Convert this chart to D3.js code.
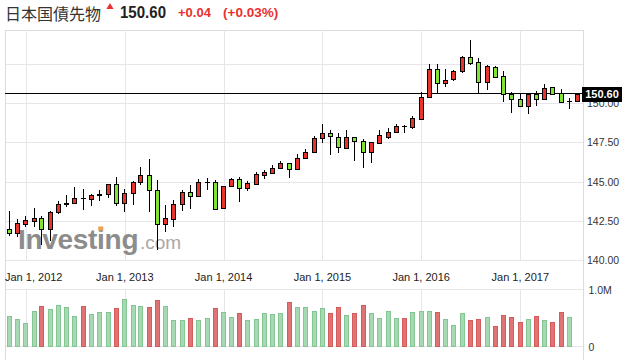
<!DOCTYPE html>
<html><head><meta charset="utf-8">
<script src="https://cdn.jsdelivr.net/npm/d3@7"></script>
<style>body{margin:0;background:#fff} svg{display:block;font-family:"Liberation Sans",Arial,sans-serif}</style>
</head><body><svg id="c" width="624" height="364"></svg>
<script>
// ---- data ----
const title = "日本国債先物";
const lastPriceText = "150.60";
const changeText = "+0.04";
const changePctText = "(+0.03%)";
const lastPrice = 150.60;
const firstMonth = "2011-11-01";
const lastMonth = "2017-08-01";
const open  = [142.00,141.70,142.32,142.51,142.66,141.96,143.08,143.58,143.62,143.94,143.91,144.16,144.19,144.83,143.62,144.25,144.99,145.42,144.45,142.28,142.60,143.55,144.32,144.06,144.99,144.99,143.30,144.70,145.15,144.57,144.83,145.44,145.57,145.85,146.17,145.78,146.49,146.87,147.76,148.08,147.86,147.14,147.83,147.57,146.91,147.48,147.86,148.14,148.55,148.50,148.97,150.38,152.16,151.27,151.52,152.03,152.93,152.61,151.37,152.29,151.73,150.57,150.25,149.84,150.57,150.25,151.01,150.63,150.12,150.14];
const high  = [143.12,142.61,142.81,143.32,142.81,143.12,143.76,144.15,144.66,144.53,144.21,144.46,144.85,145.29,144.51,145.04,145.93,146.44,145.08,143.51,143.83,144.46,144.78,145.17,145.21,145.08,144.75,145.21,145.29,145.06,145.63,145.72,146.06,146.31,146.21,146.78,147.08,147.91,148.67,148.29,148.08,148.29,147.86,147.70,147.55,148.29,148.40,148.65,148.61,149.18,150.73,152.48,152.48,152.16,152.12,153.01,154.03,152.86,152.44,152.37,152.05,150.70,150.59,150.63,150.78,151.21,151.05,150.89,150.33,150.67];
const low   = [141.55,141.49,142.09,142.12,140.96,141.23,142.91,143.36,143.57,143.19,143.46,143.78,143.94,143.46,143.08,143.53,144.78,143.08,140.64,141.77,142.09,143.14,143.25,144.06,144.45,143.17,143.27,144.66,143.70,144.42,144.83,145.15,145.53,145.80,145.25,145.74,146.44,146.81,147.44,146.70,146.84,147.10,146.33,145.85,146.17,147.44,147.70,148.12,148.12,148.37,148.97,150.35,150.59,151.05,151.42,151.91,152.46,150.67,150.84,151.67,150.10,149.39,149.78,149.29,149.84,150.25,150.52,150.06,149.65,150.14];
const close = [141.70,142.34,142.53,142.66,141.96,143.04,143.57,143.65,143.94,143.94,144.15,144.19,144.83,143.62,144.25,144.97,145.42,144.45,142.28,142.66,143.57,144.32,144.06,144.99,144.99,143.23,144.72,145.15,144.57,144.89,145.48,145.59,145.89,146.17,145.78,146.49,146.87,147.76,148.08,147.91,147.19,147.83,147.59,146.91,147.51,147.95,148.16,148.55,148.55,149.04,150.38,152.16,151.27,151.46,152.05,152.93,152.59,151.37,152.37,151.69,150.59,150.25,149.84,150.57,150.25,150.99,150.59,150.06,150.12,150.60];
// volume in millions, one per month from firstMonth (current month has none)
const volume = [0.546,0.494,0.424,0.634,0.721,0.668,0.738,0.703,0.546,0.721,0.581,0.616,0.616,0.686,0.843,0.738,0.721,0.703,0.826,0.721,0.476,0.476,0.511,0.476,0.511,0.686,0.616,0.529,0.599,0.476,0.494,0.599,0.581,0.599,0.791,0.703,0.703,0.634,0.686,0.599,0.703,0.564,0.599,0.738,0.599,0.511,0.634,0.511,0.511,0.616,0.634,0.634,0.616,0.494,0.389,0.599,0.476,0.494,0.529,0.372,0.564,0.529,0.442,0.494,0.546,0.476,0.442,0.616,0.529];
const volumeUp = [0,0,0,0,1,0,0,0,0,1,0,0,0,1,0,0,0,1,1,0,0,0,1,0,0,1,0,0,1,0,0,0,0,0,1,0,0,0,0,1,1,0,1,1,0,0,0,0,1,0,0,0,1,0,0,0,1,1,0,1,1,1,1,0,1,0,1,1,0];
const priceGrid = [140,142.5,145,147.5,150,152.5];
const priceLabels = [140,142.5,145,147.5,150];
const yearTicks = ["2012-01-01","2013-01-01","2014-01-01","2015-01-01","2016-01-01","2017-01-01"];
const yearLabels = ["Jan 1, 2012","Jan 1, 2013","Jan 1, 2014","Jan 1, 2015","Jan 1, 2016","Jan 1, 2017"];
const volTicks = [0,1];
const volTickLabels = ["0","1.0M"];

// ---- layout ----
const L = 5, R = 583, T = 30, B = 360;
const svg = d3.select("#c");
const months = d3.utcMonth.range(new Date(firstMonth), d3.utcDay.offset(new Date(lastMonth),1));
const candles = months.map((d,i)=>({d, o:open[i], h:high[i], l:low[i], c:close[i]}));
const vols = volume.map((v,i)=>({d:months[i], v, up:volumeUp[i]}));

const x = d3.scaleUtc().domain([new Date(yearTicks[0]), new Date(yearTicks[5])]).range([25.7, 520.3]);
const y = d3.scaleLinear().domain([140,152.5]).range([260,64]);
const yv = d3.scaleLinear().domain([0,1]).range([347.3,290]);
const px = v => Math.round(v)+0.5;
const grid = "#e6e6ea";

// title
svg.append("text").attr("x",5).attr("y",19.5).attr("font-family","'Noto Sans CJK JP',sans-serif")
  .attr("font-size",16).attr("fill","#333").text(title);
svg.append("path").attr("d",d3.symbol(d3.symbolTriangle,22)()).attr("transform","translate(110,7)").attr("fill","#e8312f");
svg.append("text").attr("x",120).attr("y",17.5).attr("font-size",17).attr("font-weight","bold").attr("fill","#222")
  .attr("textLength",46).attr("lengthAdjust","spacingAndGlyphs").text(lastPriceText);
svg.append("text").attr("x",178).attr("y",16.8).attr("font-size",13).attr("font-weight","bold").attr("fill","#e8312f").text(changeText);
svg.append("text").attr("x",223).attr("y",16.8).attr("font-size",13.5).attr("font-weight","bold").attr("fill","#e8312f").text(changePctText);

// grid
const g = svg.append("g").attr("shape-rendering","crispEdges");
g.selectAll(".hg").data(priceGrid).join("line").attr("x1",L).attr("x2",R)
  .attr("y1",d=>px(y(d))).attr("y2",d=>px(y(d))).attr("stroke",grid);
g.append("line").attr("x1",L).attr("x2",R).attr("y1",T+0.5).attr("y2",T+0.5).attr("stroke","#dcdcdc");
g.selectAll(".vg").data(yearTicks).join("line").attr("x1",d=>px(x(new Date(d)))).attr("x2",d=>px(x(new Date(d))))
  .attr("y1",T).attr("y2",y(140)).attr("stroke",grid);
g.selectAll(".vg2").data(yearTicks).join("line").attr("x1",d=>px(x(new Date(d)))).attr("x2",d=>px(x(new Date(d))))
  .attr("y1",yv(1)).attr("y2",yv(0)).attr("stroke",grid);
g.selectAll(".vh").data(volTicks).join("line").attr("x1",L).attr("x2",R)
  .attr("y1",d=>px(yv(d))-1).attr("y2",d=>px(yv(d))-1).attr("stroke",grid);
g.append("line").attr("x1",L+0.5).attr("x2",L+0.5).attr("y1",T).attr("y2",B).attr("stroke","#dcdcdc");
g.append("line").attr("x1",R+0.5).attr("x2",R+0.5).attr("y1",T).attr("y2",B).attr("stroke","#dcdcdc");

// watermark
const wm = svg.append("text").attr("x",18).attr("y",248.5).attr("font-size",28).attr("font-weight","bold")
  .attr("fill","#8c8c8c").attr("letter-spacing",-0.3).text("Investing");
svg.append("text").attr("x",140).attr("y",248.5).attr("font-size",19).attr("fill","#a8a8a8").text(".com");
try { const e = wm.node().getExtentOfChar(6);
  svg.append("rect").attr("x",e.x+e.width/2-2.6).attr("y",226.5).attr("width",5).attr("height",4).attr("fill","#f0a050");
} catch(err){}

// current price line
g.append("line").attr("x1",L).attr("x2",R).attr("y1",px(y(lastPrice))-1).attr("y2",px(y(lastPrice))-1).attr("stroke","#000");

// candles
const cg = svg.append("g").attr("shape-rendering","crispEdges");
const up = "#e8342c", dn = "#80e434";
candles.forEach(k=>{
  const cx = Math.floor(x(k.d));
  cg.append("line").attr("x1",cx+0.5).attr("x2",cx+0.5).attr("y1",Math.round(y(k.h))).attr("y2",Math.round(y(k.l))).attr("stroke","#000");
  if (k.o === k.c) {
    cg.append("line").attr("x1",cx-2).attr("x2",cx+3).attr("y1",px(y(k.o))).attr("y2",px(y(k.o))).attr("stroke","#000");
  } else {
    const t = Math.round(y(Math.max(k.o,k.c))), b = Math.round(y(Math.min(k.o,k.c)));
    cg.append("rect").attr("x",cx-1.5).attr("width",4).attr("y",t+0.5).attr("height",Math.max(1,b-t))
      .attr("fill",k.c>k.o?up:dn).attr("stroke","#000");
  }
});

// volume
const vg = svg.append("g").attr("shape-rendering","crispEdges");
vg.selectAll("rect").data(vols).join("rect")
  .attr("x",d=>Math.floor(x(d.d))-1.5).attr("width",4)
  .attr("y",d=>Math.round(yv(d.v))+0.5).attr("height",d=>Math.round(yv(0))-1-Math.round(yv(d.v)))
  .attr("fill",d=>d.up?"#e07474":"#a6d8b2").attr("stroke",d=>d.up?"#d45c5c":"#84c594");

// x labels
const xl = svg.append("g").attr("font-size",11).attr("fill","#222");
yearTicks.forEach((d,i)=>{
  const t = xl.append("text").attr("y",281).text(yearLabels[i]);
  const w = t.node().getComputedTextLength();
  t.attr("x", Math.max(L, x(new Date(d)) - w/2));
});

// y labels
const yl = svg.append("g").attr("font-size",10.5).attr("fill","#333").attr("dominant-baseline","central");
yl.selectAll("text").data(priceLabels).join("text").attr("x",587).attr("y",d=>y(d)).text(d=>d.toFixed(2));
yl.selectAll(".v").data(volTicks).join("text").attr("x",588.5).attr("y",d=>yv(d)).text((d,i)=>volTickLabels[i]);

// price box
svg.append("rect").attr("x",582).attr("y",Math.round(y(lastPrice))-7).attr("width",40).attr("height",15).attr("fill","#000");
svg.append("text").attr("x",602).attr("y",y(lastPrice)+0.5).attr("text-anchor","middle").attr("dominant-baseline","central")
  .attr("font-size",11).attr("font-weight","bold").attr("fill","#fff").text(lastPriceText);
</script></body></html>
